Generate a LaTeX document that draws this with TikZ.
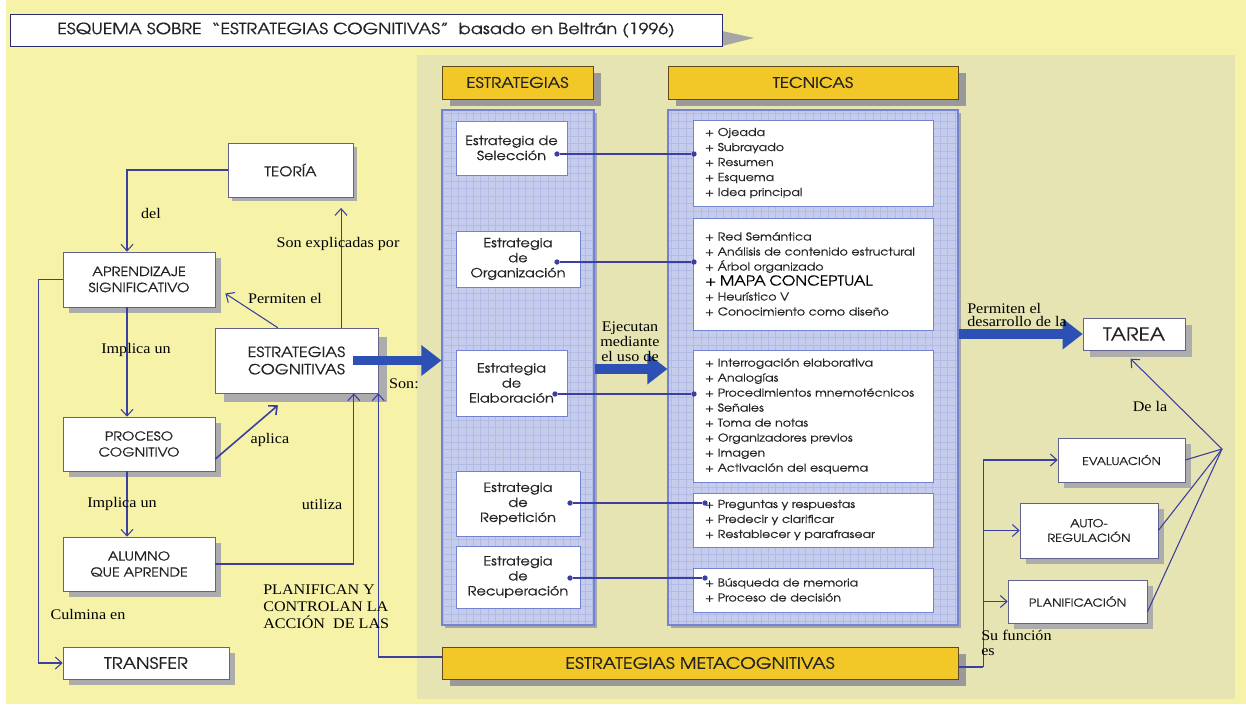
\documentclass[tikz,border=0pt]{standalone}
\usepackage{fontspec}
\setmainfont{Liberation Serif}[FakeStretch=1.1]
\newfontfamily\gothic{texgyreadventor-regular.otf}[FakeStretch=1.15,FakeBold=0.5]
\usetikzlibrary{positioning,fit,backgrounds,shadows,arrows.meta}
\definecolor{paper}{RGB}{246,242,168}
\definecolor{panel}{RGB}{229,228,178}
\definecolor{gold}{RGB}{242,200,40}
\definecolor{goldline}{RGB}{95,75,25}
\definecolor{navy}{RGB}{60,62,160}
\definecolor{royal}{RGB}{45,80,180}
\definecolor{gridfill}{RGB}{198,204,236}
\definecolor{gridline}{RGB}{115,130,210}
\definecolor{ink}{RGB}{35,35,35}
\newcommand{\gsz}[2]{\gothic\fontsize{#1}{#2}\selectfont}

\begin{document}
\begin{tikzpicture}[x=0.75pt,y=-0.75pt,
  sz/.style 2 args={minimum width=#1*0.75pt,minimum height=#2*0.75pt},
  sh/.style={drop shadow={shadow xshift=#1,shadow yshift=-#1,fill=gray!65,opacity=1}},
  sh/.default=4.5pt,
  box/.style={rectangle,draw=navy!45!gray,fill=white,inner sep=0pt,align=center,text=ink},
  hdr/.style={rectangle,draw=goldline,fill=gold,inner sep=0pt,align=center,text=ink,
    drop shadow={shadow xshift=6pt,shadow yshift=-5pt,fill=gray!80,opacity=1}},
  gridcol/.style={rectangle,draw=gridline,thick,fill=gridfill,inner sep=0pt,
    drop shadow={shadow xshift=2pt,shadow yshift=-2pt,fill=gray!70,opacity=1},
    path picture={\draw[gridline!55,line width=0.3pt] (path picture bounding box.south west) grid[step=5.6pt] (path picture bounding box.north east);}},
  stratbox/.style={rectangle,draw=gridline,fill=white,inner sep=0pt,align=center,text=ink,font=\gsz{9.5}{11.25}},
  techbox/.style={rectangle,draw=gridline,fill=white,inner xsep=9pt,inner ysep=0pt,text width=162pt,align=left,text=ink,font=\gsz{8.2}{11.25}},
  dot/.style={circle,fill=navy,inner sep=0pt,minimum size=4pt},
  link/.style={navy,line width=0.8pt,-{Straight Barb[length=5pt,width=9pt]}},
  wire/.style={navy,line width=0.8pt},
  bigarrow/.style={royal,line width=7pt,-{Triangle[length=15pt,width=22pt]}},
  lbl/.style={inner sep=0pt,font=\fontsize{11}{12.75}\selectfont,align=left}
]
\useasboundingbox (0,0) rectangle (1246,710);
\fill[white] (0,0) rectangle (1246,710);
\fill[paper] (6,0) rectangle (1246,704);
\fill[panel] (417,55) rectangle (1235,699);

% title
\fill[gray!70] (722,31) -- (754,38) -- (722,46) -- cycle;
\node[box,draw=navy!70!black,sz={712}{32},font=\gsz{11.6}{13}] (title) at (366,30) {ESQUEMA SOBRE\ \ “ESTRATEGIAS COGNITIVAS”\ \ basado en Beltrán (1996)};

% columns
\node[hdr,sz={151}{33},font=\gsz{11}{12}] (hdrestr) at (517.5,82.5) {ESTRATEGIAS};
\node[hdr,sz={290}{33},font=\gsz{11}{12}] (hdrtec) at (813,82.5) {TECNICAS};
\node[gridcol,sz={152}{515}] (estrcol) at (518,367.5) {};
\node[gridcol,sz={290}{515}] (tecol) at (813,367.5) {};

\node[stratbox,sz={111}{54}] (sel) at (511.5,148) {Estrategia de\\Selección};
\node[stratbox,sz={124}{56}] (org) at (518,259) {Estrategia\\de\\Organización};
\node[stratbox,sz={111}{66}] (elab) at (511.5,383) {Estrategia\\de\\Elaboración};
\node[stratbox,sz={124}{65}] (rep) at (518,503.5) {Estrategia\\de\\Repetición};
\node[stratbox,sz={124}{62}] (rec) at (518,577) {Estrategia\\de\\Recuperación};

\node[techbox,sz={240}{86}] (t1) at (813,163) {+ Ojeada\\+ Subrayado\\+ Resumen\\+ Esquema\\+ Idea principal};
\node[techbox,sz={240}{112}] (t2) at (813,274) {+ Red Semántica\\+ Análisis de contenido estructural\\+ Árbol organizado\\{\color{black}\fontsize{10.2}{11.25}\selectfont + MAPA CONCEPTUAL}\\+ Heurístico V\\+ Conocimiento como diseño};
\node[techbox,sz={240}{132}] (t3) at (813,416) {+ Interrogación elaborativa\\+ Analogías\\+ Procedimientos mnemotécnicos\\+ Señales\\+ Toma de notas\\+ Organizadores previos\\+ Imagen\\+ Activación del esquema};
\node[techbox,sz={240}{54}] (t4) at (813,520) {+ Preguntas y respuestas\\+ Predecir y clarificar\\+ Restablecer y parafrasear};
\node[techbox,sz={240}{44}] (t5) at (813,590) {+ Búsqueda de memoria\\+ Proceso de decisión};

\foreach \s/\y/\xa/\xb in {Sel/154/557/694,Org/262/557/694,Elab/394/555/694,Rep/503/570/705,Rec/578/570/705}{
  \node[dot] (a\s) at (\xa,\y) {};
  \node[dot] (b\s) at (\xb,\y) {};
  \draw[wire] (a\s) -- (b\s);
}

% left concept map
\node[box,sh=3pt,sz={125}{54},font=\gsz{10}{11}] (teoria) at (290.5,170) {TEORÍA};
\node[box,sh,sz={152}{55},font=\gsz{9.5}{12}] (aprend) at (139,279.5) {APRENDIZAJE\\SIGNIFICATIVO};
\node[box,sh=6.75pt,sz={163}{65},font=\gsz{10.5}{13}] (estrcog) at (296.5,360.5) {ESTRATEGIAS\\COGNITIVAS};
\node[box,sh,sz={152}{54},font=\gsz{9.3}{12}] (proceso) at (139,444) {PROCESO\\COGNITIVO};
\node[box,sh,sz={152}{54},font=\gsz{9.3}{12}] (alumno) at (139,564) {ALUMNO\\QUE APRENDE};
\node[box,sh,sz={166}{32},font=\gsz{11.8}{14}] (transfer) at (146,663) {TRANSFER};

% right side
\node[box,sh=5.5pt,sz={102}{32},font=\gsz{13.5}{15}] (tarea) at (1134,334) {TAREA};
\node[box,sh,sz={127}{44},font=\gsz{8.1}{10}] (eval) at (1121.5,460) {EVALUACIÓN};
\node[box,sh,sz={138}{55},font=\gsz{8.3}{11}] (autoreg) at (1089,530.5) {AUTO-\\REGULACIÓN};
\node[box,sh,sz={139}{43},font=\gsz{8.3}{10}] (planif) at (1077.5,601.5) {PLANIFICACIÓN};
\node[hdr,sz={516}{32},font=\gsz{11.8}{14}] (metacog) at (700,663) {ESTRATEGIAS METACOGNITIVAS};

\draw[bigarrow] ([xshift=-18.75pt]estrcog.east) -- (estrcol.west |- estrcog.east);
\coordinate (mid) at (630,369);
\draw[bigarrow] (estrcol.east |- mid) -- (tecol.west |- mid);
\draw[bigarrow] (tecol.east |- tarea.west) -- (tarea.west);

\draw[link] (teoria.west) -| ([xshift=-9pt]aprend.north);
\draw[link] (aprend.west) -- ++(-24,0) |- (transfer.west);
\draw[link] ([xshift=-9pt]aprend.south) -- ([xshift=-9pt]proceso.north);
\draw[link] ([xshift=-9pt]proceso.south) -- ([xshift=-9pt]alumno.north);
\draw[link,line width=1.2pt] ([yshift=-11.25pt]proceso.east) -- ([xshift=-13.9pt,yshift=-9pt]estrcog.south);
\draw[link] (alumno.east) -| ([xshift=43pt]estrcog.south);
\coordinate (up) at ([xshift=33.4pt]estrcog.north);
\draw[link,shorten >=8pt] (up) -- (up |- teoria.south);
\draw[link,shorten >=9pt] ([xshift=-14pt]estrcog.north) -- ([yshift=-5.6pt]aprend.east);
\draw[link] ([yshift=4.5pt]metacog.west) -| (estrcog.south east);

\draw[wire] ([yshift=-3pt]metacog.east) -- ++(25,0) coordinate (fork);
\draw[link] (fork) |- (eval.west);
\draw[link] (fork) |- (autoreg.west);
\draw[link] (fork) |- (planif.west);
\coordinate (fan) at (1222,449);
\draw[wire] (eval.east) -- (fan);
\draw[wire] (autoreg.east) -- (fan);
\draw[wire] ([yshift=-8pt]planif.east) -- (fan);
\draw[link,shorten >=9pt] (fan) -- ([xshift=-9pt]tarea.south);

% labels
\node[lbl] (ldel) at (151,213) {del};
\node[lbl] (lexpl) at (338,244) {Son explicadas por};
\node[lbl] (lperm) at (285,298) {Permiten el};
\node[lbl] (limpl) at (136,350) {Implica un};
\node[lbl] (lapl) at (270,440) {aplica};
\node[lbl] (limpl2) at (122,504) {Implica un};
\node[lbl] (lutil) at (322,504) {utiliza};
\node[lbl] (lculm) at (88,614) {Culmina en};
\node[lbl,anchor=north west] (lplan) at (263,585) {PLANIFICAN Y\\CONTROLAN LA\\ACCIÓN\ \ DE LAS};
\node[lbl] (lson) at (404,384) {Son:};
\node[lbl,align=center,font=\fontsize{11}{11.25}\selectfont] (lejec) at (630,342) {Ejecutan\\mediante\\el uso de};
\node[lbl,anchor=north west,font=\fontsize{11}{9.75}\selectfont] (ldes) at (967,303) {Permiten el\\desarrollo de la};
\node[lbl] (ldela) at (1150,406) {De la};
\node[lbl,anchor=north west,font=\fontsize{11}{11.25}\selectfont] (lfunc) at (981,630) {Su función\\es};
\end{tikzpicture}
\end{document}
